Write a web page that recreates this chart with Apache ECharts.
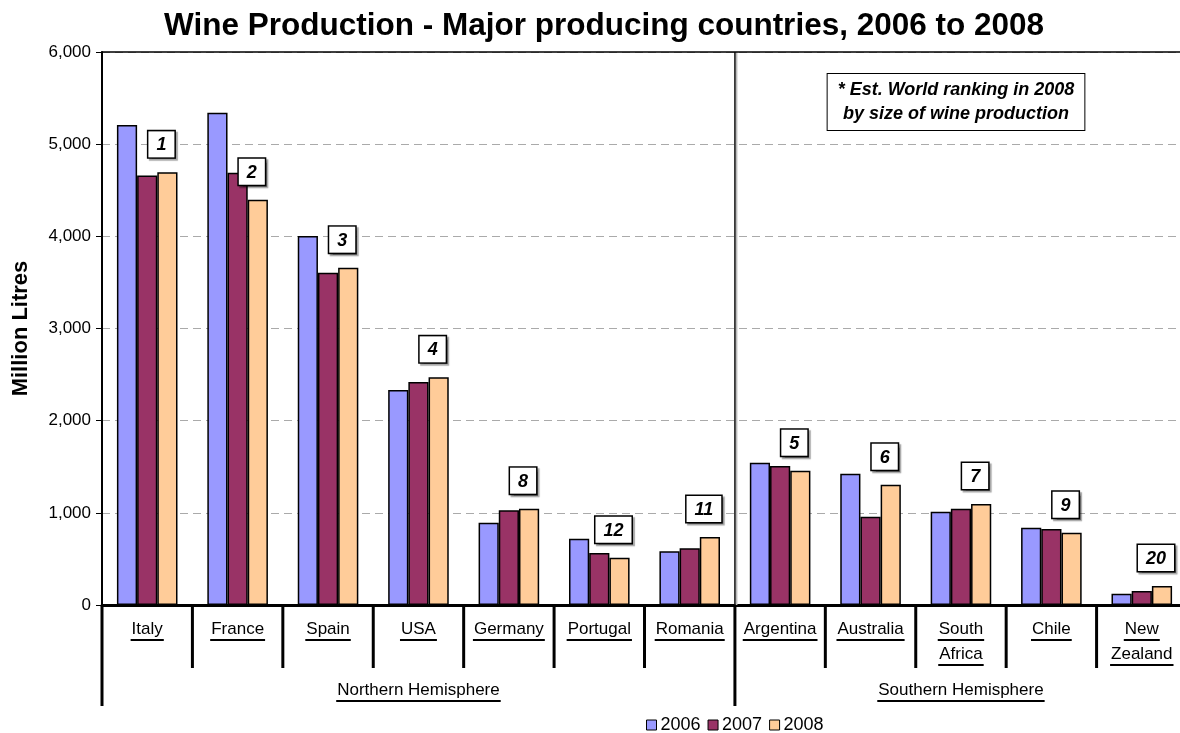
<!DOCTYPE html>
<html>
<head>
<meta charset="utf-8">
<script src="https://cdn.jsdelivr.net/npm/echarts@6/dist/echarts.min.js"></script>
<style>html,body{margin:0;padding:0;background:#fff;overflow:hidden;}#c{width:1180px;height:733px;}</style>
</head>
<body>
<div id="c"></div>
<script>
const categories = ['Italy','France','Spain','USA','Germany','Portugal','Romania','Argentina','Australia','South\nAfrica','Chile','New\nZealand'];
const groupNames = ['Northern Hemisphere','Southern Hemisphere'];
const groupSizes = [7, 5];
const years = ['2006','2007','2008'];
const v2006 = [5208, 5341, 4003, 2333, 893, 720, 582, 1544, 1425, 1012, 839, 123];
const v2007 = [4660, 4690, 3606, 2420, 1027, 564, 615, 1508, 958, 1045, 824, 152];
const v2008 = [4694, 4397, 3660, 2470, 1045, 513, 738, 1457, 1305, 1096, 784, 206];
const ranks = ['1','2','3','4','8','12','11','5','6','7','9','20'];
const yTicks = [0, 1000, 2000, 3000, 4000, 5000, 6000];

const FF = "'Liberation Sans', Arial, sans-serif";
const catFont = "17px " + FF;
const mctx = document.createElement('canvas').getContext('2d');
function measure(t, font){ mctx.font = font; return mctx.measureText(t).width; }

const groups = [];
(function(){ let s = 0; groupSizes.forEach((n, k) => { groups.push({name: groupNames[k], start: s, end: s + n - 1}); s += n; }); })();

function renderAxis(params, api){
  const i = api.value(0);
  const base = api.coord([i, 0]);
  const bw = api.size([1, 0])[0];
  const cx = base[0], y0 = base[1];
  const left = cx - bw / 2, right = cx + bw / 2;
  const ch = [];
  const lines = categories[i].split('\n');
  lines.forEach((ln, k) => {
    const ty = y0 + 24 + k * 25;
    const w = measure(ln, catFont);
    ch.push({type: 'text', style: {text: ln, x: cx, y: ty, align: 'center', verticalAlign: 'middle', font: catFont, fill: '#000'}});
    ch.push({type: 'line', shape: {x1: cx - w / 2 - 1, y1: ty + 11, x2: cx + w / 2 + 1, y2: ty + 11}, style: {stroke: '#000', lineWidth: 2}});
  });
  const grp = groups.find(g => g.start === i);
  const sepLen = grp ? 101 : 63;
  ch.push({type: 'line', shape: {x1: left, y1: y0, x2: left, y2: y0 + sepLen}, style: {stroke: '#000', lineWidth: 3}});
  if (i === categories.length - 1) {
    ch.push({type: 'line', shape: {x1: right, y1: y0, x2: right, y2: y0 + 101}, style: {stroke: '#000', lineWidth: 3}});
  }
  if (grp) {
    const a = api.coord([grp.start, 0])[0] - bw / 2;
    const b = api.coord([grp.end, 0])[0] + bw / 2;
    const gx = (a + b) / 2, gy = y0 + 85;
    const w = measure(grp.name, catFont);
    ch.push({type: 'text', style: {text: grp.name, x: gx, y: gy, align: 'center', verticalAlign: 'middle', font: catFont, fill: '#000'}});
    ch.push({type: 'line', shape: {x1: gx - w / 2 - 1, y1: gy + 11, x2: gx + w / 2 + 1, y2: gy + 11}, style: {stroke: '#000', lineWidth: 2}});
    if (grp.start > 0) {
      const topY = api.coord([i, yTicks[yTicks.length - 1]])[1];
      ch.push({type: 'line', shape: {x1: left + 1.5, y1: topY, x2: left + 1.5, y2: y0}, style: {stroke: '#bbb', lineWidth: 2}});
      ch.push({type: 'line', shape: {x1: left, y1: topY, x2: left, y2: y0}, style: {stroke: '#111', lineWidth: 1.5}});
    }
  }
  return {type: 'group', children: ch};
}

const barColors = ['#9999FF', '#993366', '#FFCC99'];
const seriesVals = [v2006, v2007, v2008];
const series = years.map((y, k) => {
  const s = {
    name: y, type: 'bar', data: seriesVals[k], barGap: '0%', barCategoryGap: '33%',
    itemStyle: {color: barColors[k], borderColor: '#000', borderWidth: 1.5},
    emphasis: {disabled: true}
  };
  if (k === 2) {
    s.label = {
      show: true, position: 'top', distance: 15, offset: [-6, 0],
      formatter: p => ranks[p.dataIndex],
      fontFamily: FF, fontSize: 18, fontWeight: 'bold', fontStyle: 'italic', color: '#000',
      backgroundColor: '#fff', borderColor: '#000', borderWidth: 1.5, padding: [5, 8, 3, 8],
      shadowColor: 'rgba(0,0,0,0.35)', shadowOffsetX: 2, shadowOffsetY: 2, shadowBlur: 1
    };
  }
  return s;
});
series.push({
  type: 'custom', name: 'axisDeco', renderItem: renderAxis, clip: false, silent: true,
  data: categories.map((c, i) => [i, 0]), z: 10
});

const chart = echarts.init(document.getElementById('c'));
chart.setOption({
  animation: false,
  backgroundColor: '#fff',
  title: {
    text: 'Wine Production - Major producing countries, 2006 to 2008',
    left: 599, top: 5, textAlign: 'center',
    textStyle: {fontFamily: FF, fontSize: 31.5, fontWeight: 'bold', color: '#000'}
  },
  legend: {
    data: years, left: 641, top: 711, itemWidth: 10, itemHeight: 10, itemGap: 7,
    icon: 'rect',
    textStyle: {fontFamily: FF, fontSize: 18, color: '#000', padding: [0, 0, 0, -1]},
    itemStyle: {borderColor: '#000', borderWidth: 1}
  },
  graphic: [{
    type: 'text', x: 956, y: 102, z: 20,
    style: {
      text: '* Est. World ranking in 2008\nby size of wine production',
      font: 'italic bold 18px ' + FF, fill: '#000', align: 'center', verticalAlign: 'middle',
      lineHeight: 24, backgroundColor: '#fff', borderColor: '#000', borderWidth: 1, padding: [4, 10, 4, 10]
    }
  }],
  grid: {left: 102, width: 1085, top: 52, bottom: 128, show: false, outerBoundsMode: 'none', containLabel: false},
  xAxis: [{
    type: 'category', data: categories,
    axisLine: {lineStyle: {color: '#000', width: 3}},
    axisTick: {show: false}, axisLabel: {show: false}, splitLine: {show: false}
  }, {
    type: 'category', data: categories, position: 'top', z: 20,
    axisLine: {show: true, lineStyle: {color: '#000', width: 1.5}},
    axisTick: {show: false}, axisLabel: {show: false}, splitLine: {show: false}
  }],
  yAxis: {
    type: 'value', min: yTicks[0], max: yTicks[yTicks.length - 1], interval: 1000,
    name: 'Million Litres', nameLocation: 'middle', nameGap: 70, nameRotate: 90,
    nameTextStyle: {fontFamily: FF, fontSize: 22, fontWeight: 'bold', color: '#000'},
    axisLine: {show: true, lineStyle: {color: '#000', width: 2}},
    axisTick: {show: true, length: 6, lineStyle: {color: '#000', width: 1}},
    axisLabel: {fontFamily: FF, fontSize: 17, color: '#000', margin: 11,
      formatter: v => v.toLocaleString('en-US')},
    splitLine: {show: true, lineStyle: {color: '#aaa', type: [8, 5], width: 1}}
  },
  series: series
});
</script>
</body>
</html>
